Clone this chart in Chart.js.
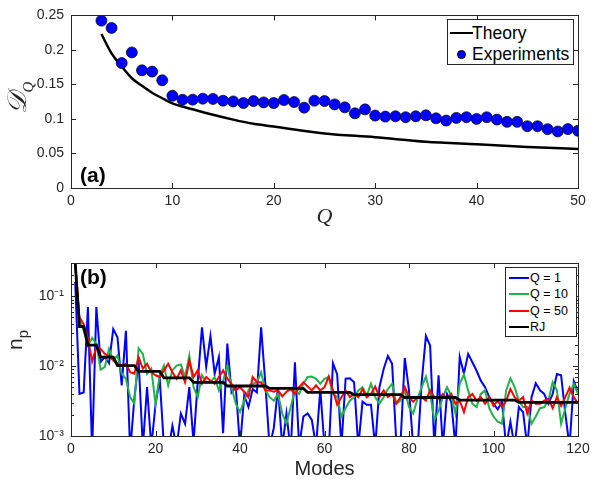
<!DOCTYPE html>
<html>
<head>
<meta charset="utf-8">
<script src="https://cdn.jsdelivr.net/npm/chart.js@4.4.0/dist/chart.umd.min.js"></script>
<style>
    body { margin: 0; background: #fff; font-family: 'Liberation Sans', Arial, sans-serif; }
    #wrap { position: relative; width: 597px; height: 485px; overflow: hidden; }
    canvas { position: absolute; left: 0; }
    #topChart { top: 0; }
    #bottomChart { top: 240px; }
    .legend { position: absolute; background: #fff; border: 1px solid #262626; box-sizing: border-box; }
    .legend .row { position: absolute; white-space: nowrap; }
    .legend .swatch { position: absolute; }
    .legend .label { position: absolute; color: #000; }
    .panel { position: absolute; font-weight: bold; font-size: 21px; color: #000; }
    .ytitle { position: absolute; transform: translate(-50%, -50%) rotate(-90deg); white-space: nowrap; color: #262626; }
</style>
</head>
<body>
<div id="wrap">
    <canvas id="topChart" width="597" height="240"></canvas>
    <canvas id="bottomChart" width="597" height="245"></canvas>
    <div class="ytitle" style="left:19px; top:98px; font-family:'DejaVu Serif', serif; font-style:italic; font-size:27px;">𝒟<sub style="font-size:15px; font-family:'Liberation Serif', serif;">Q</sub></div>
    <div class="ytitle" style="left:17px; top:340px; font-size:21px;">n<sub style="font-size:15px;">p</sub></div>
    <div class="panel" style="left:80px; top:163px;">(a)</div>
    <div class="panel" style="left:80px; top:265px;">(b)</div>
    <div id="topLegend" class="legend" style="left:447px; top:19px; width:127px; height:46px;"></div>
    <div id="bottomLegend" class="legend" style="left:505px; top:267px; width:72px; height:70px;"></div>
</div>
<script>
// ---- panel (a) ----
const qValues = [3, 4, 5, 6, 7, 8, 9, 10, 11, 12, 13, 14, 15, 16, 17, 18, 19, 20, 21, 22, 23, 24, 25, 26,
    27, 28, 29, 30, 31, 32, 33, 34, 35, 36, 37, 38, 39, 40, 41, 42, 43, 44, 45, 46, 47, 48, 49, 50];
const experiments = [0.2424, 0.2318, 0.181, 0.1964, 0.1705, 0.1686, 0.156, 0.1336, 0.1279, 0.128,
    0.1293, 0.129, 0.1264, 0.1254, 0.1231, 0.1259, 0.124, 0.1231, 0.1274, 0.1245,
    0.1164, 0.1264, 0.126, 0.1211, 0.1168, 0.1082, 0.1139, 0.1049, 0.1034, 0.1039,
    0.1025, 0.1039, 0.1053, 0.101, 0.0977, 0.1015, 0.1025, 0.1001, 0.1025, 0.0991,
    0.0958, 0.0958, 0.0895, 0.0895, 0.0852, 0.0819, 0.0853, 0.0829];
const theoryQ = [3, 4, 5, 6, 7, 8, 9, 10, 12, 14, 16, 18, 20, 25, 30, 35, 40, 45, 50];
const theoryD = [0.223, 0.195, 0.176, 0.159, 0.148, 0.138, 0.130, 0.1226, 0.114, 0.106,
    0.099, 0.093, 0.089, 0.079, 0.0735, 0.067, 0.0632, 0.0595, 0.0565];

// ---- panel (b) ----
const modes = Array.from({ length: 120 }, (_, i) => i + 1);
const np_q1 = [0.16, 0.004, 0.0042, 0.07, 0.0006, 0.07, 0.0115, 0.0135, 0.011, 0.034,
    0.026, 0.0053, 0.032, 0.0006, 0.0035, 0.012, 0.0007, 0.005, 0.0007, 0.0028,
    0.0066, 0.0007, 0.0006, 0.0014, 0.0007, 0.0021, 0.0015, 0.005, 0.0008, 0.006,
    0.036, 0.0098, 0.027, 0.0078, 0.0135, 0.0011, 0.021, 0.0042, 0.005, 0.0007,
    0.0038, 0.0026, 0.0047, 0.0042, 0.036, 0.0056, 0.0007, 0.0013, 0.005, 0.0007,
    0.0021, 0.0006, 0.0114, 0.0007, 0.0019, 0.0021, 0.0017, 0.0007, 0.0047, 0.0007,
    0.0006, 0.011, 0.0076, 0.0007, 0.0066, 0.0067, 0.0059, 0.0007, 0.0031, 0.0028,
    0.0028, 0.0007, 0.005, 0.0091, 0.014, 0.0108, 0.0008, 0.0008, 0.0131, 0.0045,
    0.0007, 0.0006, 0.0059, 0.027, 0.0197, 0.0007, 0.0074, 0.0007, 0.004, 0.0031,
    0.0007, 0.0135, 0.0078, 0.015, 0.0114, 0.0086, 0.0062, 0.005, 0.0036, 0.0029,
    0.0024, 0.0031, 0.0007, 0.0016, 0.0007, 0.0026, 0.0022, 0.0007, 0.0036, 0.0057,
    0.0045, 0.004, 0.0029, 0.004, 0.0077, 0.0074, 0.0021, 0.0007, 0.0061, 0.0042];
const np_q10 = [0.3, 0.045, 0.0324, 0.0197, 0.0254, 0.021, 0.0089, 0.0097, 0.0177, 0.012,
    0.0142, 0.0078, 0.0066, 0.0036, 0.0029, 0.0181, 0.015, 0.0078, 0.0092, 0.0029,
    0.0074, 0.0102, 0.0053, 0.0087, 0.0102, 0.0106, 0.007, 0.0142, 0.005, 0.0036,
    0.0074, 0.0059, 0.0059, 0.007, 0.0045, 0.0062, 0.0102, 0.005, 0.0029, 0.0022,
    0.0032, 0.0045, 0.0056, 0.0059, 0.0082, 0.0045, 0.0036, 0.0032, 0.004, 0.0021,
    0.0015, 0.0026, 0.0045, 0.004, 0.0056, 0.007, 0.0071, 0.0066, 0.0056, 0.0066,
    0.007, 0.004, 0.0036, 0.0019, 0.0025, 0.0032, 0.0036, 0.0045, 0.005, 0.0038,
    0.0056, 0.0036, 0.0029, 0.0036, 0.0047, 0.0056, 0.0029, 0.0032, 0.0045, 0.0026,
    0.0021, 0.0034, 0.005, 0.0071, 0.004, 0.0017, 0.0023, 0.0036, 0.005, 0.0038,
    0.0021, 0.0056, 0.0076, 0.0045, 0.0029, 0.0026, 0.004, 0.0045, 0.0025, 0.0019,
    0.0016, 0.0015, 0.0045, 0.0067, 0.005, 0.0032, 0.0026, 0.0026, 0.0015, 0.0019,
    0.0025, 0.0026, 0.0032, 0.0059, 0.0045, 0.0015, 0.0025, 0.004, 0.0056, 0.004];
const np_q50 = [0.29, 0.05, 0.04, 0.025, 0.0117, 0.0187, 0.0177, 0.015, 0.0137, 0.0123,
    0.0108, 0.0102, 0.0108, 0.0082, 0.0078, 0.0134, 0.0092, 0.0108, 0.0082, 0.0074,
    0.007, 0.0087, 0.0108, 0.0082, 0.0066, 0.0087, 0.0059, 0.012, 0.007, 0.0087,
    0.0056, 0.007, 0.0062, 0.0056, 0.007, 0.0087, 0.0066, 0.0056, 0.0045, 0.005,
    0.0043, 0.0036, 0.007, 0.0059, 0.0059, 0.0045, 0.0045, 0.0043, 0.0045, 0.0037,
    0.0043, 0.0047, 0.004, 0.005, 0.0059, 0.0051, 0.0045, 0.0053, 0.0045, 0.005,
    0.0071, 0.0045, 0.0028, 0.0036, 0.0045, 0.0036, 0.004, 0.0036, 0.0047, 0.0036,
    0.004, 0.0051, 0.0036, 0.0045, 0.0036, 0.004, 0.0029, 0.0036, 0.005, 0.0036,
    0.0031, 0.0036, 0.0036, 0.0032, 0.0045, 0.0036, 0.0034, 0.004, 0.0034, 0.004,
    0.0029, 0.0032, 0.0022, 0.0036, 0.004, 0.0032, 0.0036, 0.0029, 0.0036, 0.0027,
    0.0032, 0.0026, 0.0032, 0.0047, 0.0036, 0.0032, 0.0036, 0.0021, 0.0032, 0.0029,
    0.0029, 0.0032, 0.0034, 0.0025, 0.0036, 0.0027, 0.0036, 0.0049, 0.0036, 0.0029];
const np_rj = [0.3, 0.037, 0.037, 0.02, 0.02, 0.02, 0.0135, 0.0135, 0.0135, 0.0135,
    0.0102, 0.0102, 0.0102, 0.0102, 0.0102, 0.0084, 0.0084, 0.0084, 0.0084, 0.0084,
    0.0084, 0.0068, 0.0068, 0.0068, 0.0068, 0.0068, 0.0068, 0.0068, 0.00585, 0.00585,
    0.00585, 0.00585, 0.00585, 0.00585, 0.00585, 0.00585, 0.0052, 0.0052, 0.0052, 0.0052,
    0.0052, 0.0052, 0.0052, 0.0052, 0.0052, 0.0052, 0.0048, 0.0048, 0.0048, 0.0048,
    0.0048, 0.0048, 0.0048, 0.0048, 0.0048, 0.0042, 0.0042, 0.0042, 0.0042, 0.0042,
    0.0042, 0.0042, 0.0042, 0.0042, 0.0042, 0.0042, 0.0039, 0.0039, 0.0039, 0.0039,
    0.0039, 0.0039, 0.0039, 0.0039, 0.0039, 0.0039, 0.0039, 0.0039, 0.00356, 0.00356,
    0.00356, 0.00356, 0.00356, 0.00356, 0.00356, 0.00356, 0.00356, 0.00356, 0.00356, 0.00356,
    0.00356, 0.00327, 0.00327, 0.00327, 0.00327, 0.00327, 0.00327, 0.00327, 0.00327, 0.00327,
    0.00327, 0.00327, 0.00327, 0.00327, 0.00327, 0.00303, 0.00303, 0.00303, 0.00303, 0.00303,
    0.00303, 0.00303, 0.00303, 0.00303, 0.00303, 0.00303, 0.00303, 0.00303, 0.00303, 0.00303];

const seriesLabels = ['Q = 1', 'Q = 10', 'Q = 50', 'RJ'];
const seriesColors = ['#0000ff', '#22b14c', '#ff0000', '#000000'];

const AXIS_COLOR = '#262626';
const superDigits = { '-': '⁻', '0': '⁰', '1': '¹', '2': '²', '3': '³', '4': '⁴', '5': '⁵', '6': '⁶', '7': '⁷', '8': '⁸', '9': '⁹' };

// box round the axes with inward ticks, like matlab
const matlabBox = {
    id: 'matlabBox',
    afterDatasetsDraw(chart) {
        const { ctx, chartArea: a, scales: { x, y } } = chart;
        ctx.save();
        ctx.strokeStyle = AXIS_COLOR;
        ctx.lineWidth = 1;
        ctx.beginPath();
        x.ticks.forEach(t => {
            const px = Math.round(x.getPixelForValue(t.value)) + 0.5;
            ctx.moveTo(px, a.bottom); ctx.lineTo(px, a.bottom - 5);
            ctx.moveTo(px, a.top); ctx.lineTo(px, a.top + 5);
        });
        y.ticks.forEach(t => {
            let len = 5;
            if (y.type === 'logarithmic') {
                const l = Math.log10(t.value);
                len = Math.abs(l - Math.round(l)) < 1e-6 ? 5 : 3;
            }
            const py = Math.round(y.getPixelForValue(t.value)) + 0.5;
            ctx.moveTo(a.left, py); ctx.lineTo(a.left + len, py);
            ctx.moveTo(a.right, py); ctx.lineTo(a.right - len, py);
        });
        ctx.stroke();
        ctx.strokeRect(Math.round(a.left) + 0.5, Math.round(a.top) + 0.5, Math.round(a.width), Math.round(a.height));
        ctx.restore();
    }
};

function tickFont(size) {
    return { family: "'Liberation Sans', Arial, sans-serif", size: size };
}

new Chart(document.getElementById('topChart').getContext('2d'), {
    type: 'line',
    data: {
        datasets: [{
            label: 'Experiments',
            data: qValues.map((q, i) => ({ x: q, y: experiments[i] })),
            showLine: false,
            pointRadius: 5.5,
            pointBackgroundColor: '#0000ff',
            pointBorderColor: '#000',
            pointBorderWidth: 0.7,
            order: 1,
        }, {
            label: 'Theory',
            data: theoryQ.map((q, i) => ({ x: q, y: theoryD[i] })),
            borderColor: '#000',
            borderWidth: 2.5,
            pointRadius: 0,
            cubicInterpolationMode: 'monotone',
            order: 2,
        }],
    },
    options: {
        responsive: false,
        animation: false,
        layout: { padding: { top: 14, right: 19, left: 0, bottom: 0 } },
        plugins: { legend: { display: false }, tooltip: { enabled: false } },
        scales: {
            x: {
                type: 'linear', min: 0, max: 50,
                ticks: { stepSize: 10, color: AXIS_COLOR, font: tickFont(14), padding: 5, maxRotation: 0 },
                grid: { display: false, drawTicks: false },
                border: { display: false },
                title: { display: true, text: 'Q', color: AXIS_COLOR, padding: { bottom: 10, top: 0 },
                    font: { family: "'Liberation Serif', serif", style: 'italic', size: 22 } },
                afterFit: s => { s.height = 52; },
            },
            y: {
                min: 0, max: 0.25,
                ticks: { stepSize: 0.05, color: AXIS_COLOR, font: tickFont(14), padding: 7,
                    callback: v => String(+v.toFixed(2)) },
                grid: { display: false, drawTicks: false },
                border: { display: false },
                afterFit: s => { s.width = 71; },
            },
        },
    },
    plugins: [matlabBox],
});

const bottomSeries = [np_q1, np_q10, np_q50, np_rj];
new Chart(document.getElementById('bottomChart').getContext('2d'), {
    type: 'line',
    data: {
        datasets: bottomSeries.map((vals, k) => ({
            label: seriesLabels[k],
            data: modes.map((m, i) => ({ x: m, y: vals[i] })),
            borderColor: seriesColors[k],
            borderWidth: k === 3 ? 2.8 : 2,
            pointRadius: 0,
            tension: 0,
            order: 4 - k,
        })),
    },
    options: {
        responsive: false,
        animation: false,
        layout: { padding: { top: 23, right: 19, left: 0, bottom: 0 } },
        plugins: { legend: { display: false }, tooltip: { enabled: false } },
        scales: {
            x: {
                type: 'linear', min: 0, max: 120,
                ticks: { stepSize: 20, color: AXIS_COLOR, font: tickFont(14), padding: 5, maxRotation: 0 },
                grid: { display: false, drawTicks: false },
                border: { display: false },
                title: { display: true, text: 'Modes', color: AXIS_COLOR, padding: { bottom: 4, top: 0 },
                    font: { family: "'Liberation Sans', Arial, sans-serif", size: 20 } },
                afterFit: s => { s.height = 49; },
            },
            y: {
                type: 'logarithmic', min: 0.001, max: 0.3,
                ticks: {
                    autoSkip: false, color: AXIS_COLOR, font: tickFont(14), padding: 7,
                    callback: v => {
                        const l = Math.log10(v);
                        if (Math.abs(l - Math.round(l)) > 1e-6) return '';
                        return '10' + String(Math.round(l)).split('').map(c => superDigits[c]).join('');
                    },
                },
                grid: { display: false, drawTicks: false },
                border: { display: false },
                afterFit: s => { s.width = 71; },
            },
        },
    },
    plugins: [matlabBox],
});

// legends
function addRow(box, top, swatch, text, textLeft, fontSize) {
    const row = document.createElement('div');
    row.className = 'row';
    row.style.top = top + 'px';
    row.style.left = '0px';
    row.appendChild(swatch);
    const lab = document.createElement('div');
    lab.className = 'label';
    lab.textContent = text;
    lab.style.left = textLeft + 'px';
    lab.style.fontSize = fontSize + 'px';
    lab.style.lineHeight = '0px';
    lab.style.top = '0px';
    row.appendChild(lab);
    box.appendChild(row);
}
function lineSwatch(left, width, color, thick) {
    const s = document.createElement('div');
    s.className = 'swatch';
    s.style.left = left + 'px';
    s.style.width = width + 'px';
    s.style.top = (-thick / 2) + 'px';
    s.style.height = thick + 'px';
    s.style.background = color;
    return s;
}
const topLegend = document.getElementById('topLegend');
addRow(topLegend, 13, lineSwatch(2, 23, '#000', 2.5), 'Theory', 24, 17.5);
const dot = document.createElement('div');
dot.className = 'swatch';
dot.style.cssText = 'left:9px; top:-4.5px; width:9px; height:9px; border-radius:50%; background:#0000ff; box-sizing:border-box; border:0.7px solid #000;';
addRow(topLegend, 34, dot, 'Experiments', 24, 17.5);

const bottomLegend = document.getElementById('bottomLegend');
seriesLabels.forEach((name, k) => {
    addRow(bottomLegend, 10 + k * 16.3, lineSwatch(3, 20, seriesColors[k], k === 3 ? 2.8 : 2), name, 24, 12.5);
});
</script>
</body>
</html>
